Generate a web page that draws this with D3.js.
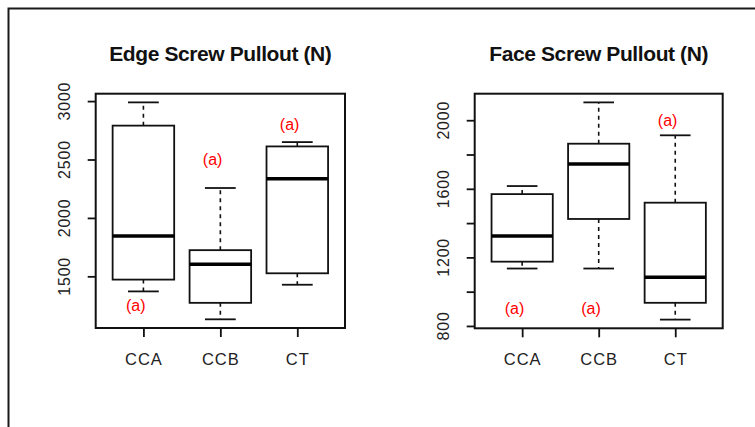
<!DOCTYPE html>
<html>
<head>
<meta charset="utf-8">
<script src="https://cdn.jsdelivr.net/npm/d3@7"></script>
<style>
  html, body { margin: 0; padding: 0; background: #fff; }
  svg { display: block; }
  text { font-family: "Liberation Sans", Arial, sans-serif; }
</style>
</head>
<body>
<svg id="chart" width="755" height="427"></svg>
<script>
// Groups shown on both panels
const categories = ["CCA", "CCB", "CT"];

// Box summaries per group: [lower whisker, Q1, median, Q3, upper whisker]
const edgeStats = [
  [1371, 1472, 1845, 2790, 2989],
  [1132, 1273, 1603, 1724, 2256],
  [1428, 1526, 2336, 2612, 2649]
];
const faceStats = [
  [1135, 1175, 1324, 1569, 1616],
  [1135, 1424, 1745, 1863, 2104],
  [837, 935, 1084, 1519, 1912]
];

// Significance letters and the value where each one sits
const edgeLetters = ["(a)", "(a)", "(a)"];
const edgeLetterY = [1250, 2500, 2800];
const faceLetters = ["(a)", "(a)", "(a)"];
const faceLetterY = [900, 900, 2000];

// Tick values (all ticks) and which of them carry a label
const edgeTicks = [1500, 2000, 2500, 3000];
const edgeTickLabels = [1500, 2000, 2500, 3000];
const faceTicks = [800, 1000, 1200, 1400, 1600, 1800, 2000];
const faceTickLabels = [800, 1200, 1600, 2000];

const svg = d3.select("#chart");

// outer frame lines (top and left)
svg.append("path")
  .attr("d", "M8.5,427 L8.5,8.5 L755,8.5")
  .attr("fill", "none")
  .attr("stroke", "#1a1a1a")
  .attr("stroke-width", 2);

function panel(cfg) {
  const { left, right, top, bottom, title, stats, letters, letterY, ticks, tickLabels } = cfg;
  const g = svg.append("g");

  const lo = d3.min(stats, d => d[0]);
  const hi = d3.max(stats, d => d[4]);
  const pad = (hi - lo) * 0.04;
  const y = d3.scaleLinear().domain([lo - pad, hi + pad]).range([bottom, top]);
  const x = d3.scaleLinear().domain([0.38, categories.length + 0.62]).range([left, right]);

  // title
  g.append("text")
    .attr("x", (left + right) / 2)
    .attr("y", 61)
    .attr("text-anchor", "middle")
    .attr("font-size", 21)
    .attr("font-weight", "bold")
    .attr("letter-spacing", -0.4)
    .attr("fill", "#111")
    .text(title);

  // boxes
  const box = g.selectAll("g.box").data(stats).join("g").attr("class", "box");
  const cx = (d, i) => x(i + 1);
  const half = x(0.4) - x(0);
  const staple = x(0.2) - x(0);

  // dashed whiskers
  box.append("line")
    .attr("x1", cx).attr("x2", cx)
    .attr("y1", d => y(d[3])).attr("y2", d => y(d[4]))
    .attr("stroke", "#111").attr("stroke-width", 1.6).attr("stroke-dasharray", "4,4");
  box.append("line")
    .attr("x1", cx).attr("x2", cx)
    .attr("y1", d => y(d[1])).attr("y2", d => y(d[0]))
    .attr("stroke", "#111").attr("stroke-width", 1.6).attr("stroke-dasharray", "4,4");
  // staples
  box.selectAll("line.staple").data(d => [d[0], d[4]].map(v => ({ v }))).join("line")
    .attr("class", "staple");
  box.each(function (d, i) {
    d3.select(this).selectAll("line.staple")
      .attr("x1", cx(d, i) - staple).attr("x2", cx(d, i) + staple)
      .attr("y1", s => y(s.v)).attr("y2", s => y(s.v))
      .attr("stroke", "#111").attr("stroke-width", 1.8);
  });
  // box body
  box.append("rect")
    .attr("x", (d, i) => cx(d, i) - half)
    .attr("width", half * 2)
    .attr("y", d => y(d[3]))
    .attr("height", d => y(d[1]) - y(d[3]))
    .attr("fill", "#fff").attr("stroke", "#111").attr("stroke-width", 1.8);
  // median
  box.append("line")
    .attr("x1", (d, i) => cx(d, i) - half).attr("x2", (d, i) => cx(d, i) + half)
    .attr("y1", d => y(d[2])).attr("y2", d => y(d[2]))
    .attr("stroke", "#000").attr("stroke-width", 3.5);

  // letters
  g.selectAll("text.letter").data(letters).join("text")
    .attr("class", "letter")
    .attr("x", (d, i) => x(i + 0.9))
    .attr("y", (d, i) => y(letterY[i]))
    .attr("dy", "0.35em")
    .attr("text-anchor", "middle")
    .attr("font-size", 16)
    .attr("fill", "#ff0000")
    .text(d => d);

  // plot frame
  g.append("rect")
    .attr("x", left).attr("y", top)
    .attr("width", right - left).attr("height", bottom - top)
    .attr("fill", "none").attr("stroke", "#111").attr("stroke-width", 2);

  // y axis
  const ya = g.append("g").attr("transform", `translate(${left},0)`)
    .call(d3.axisLeft(y).tickValues(ticks).tickSize(8).tickFormat(""));
  ya.select(".domain").remove();
  ya.selectAll("line").attr("stroke", "#111").attr("stroke-width", 1.8);
  g.selectAll("text.ylab").data(tickLabels).join("text")
    .attr("class", "ylab")
    .attr("transform", d => `translate(${left - 26},${y(d)}) rotate(-90)`)
    .attr("text-anchor", "middle")
    .attr("font-size", 16)
    .attr("letter-spacing", 0.8)
    .attr("fill", "#222")
    .text(d => d);

  // x axis
  const xa = g.append("g").attr("transform", `translate(0,${bottom})`)
    .call(d3.axisBottom(x).tickValues(categories.map((c, i) => i + 1)).tickSize(9)
      .tickFormat((d) => categories[d - 1]));
  xa.select(".domain").remove();
  xa.selectAll("line").attr("stroke", "#111").attr("stroke-width", 1.8);
  xa.selectAll("text")
    .attr("font-size", 16.5)
    .attr("letter-spacing", 1)
    .attr("fill", "#222")
    .attr("dy", null)
    .attr("y", 37)
    .style("font-family", "'Liberation Sans', Arial, sans-serif");
}

panel({
  left: 95.7, right: 345, top: 93.7, bottom: 328,
  title: "Edge Screw Pullout (N)",
  stats: edgeStats, letters: edgeLetters, letterY: edgeLetterY,
  ticks: edgeTicks, tickLabels: edgeTickLabels
});
panel({
  left: 474.7, right: 722.7, top: 93.7, bottom: 328.3,
  title: "Face Screw Pullout (N)",
  stats: faceStats, letters: faceLetters, letterY: faceLetterY,
  ticks: faceTicks, tickLabels: faceTickLabels
});
</script>
</body>
</html>
